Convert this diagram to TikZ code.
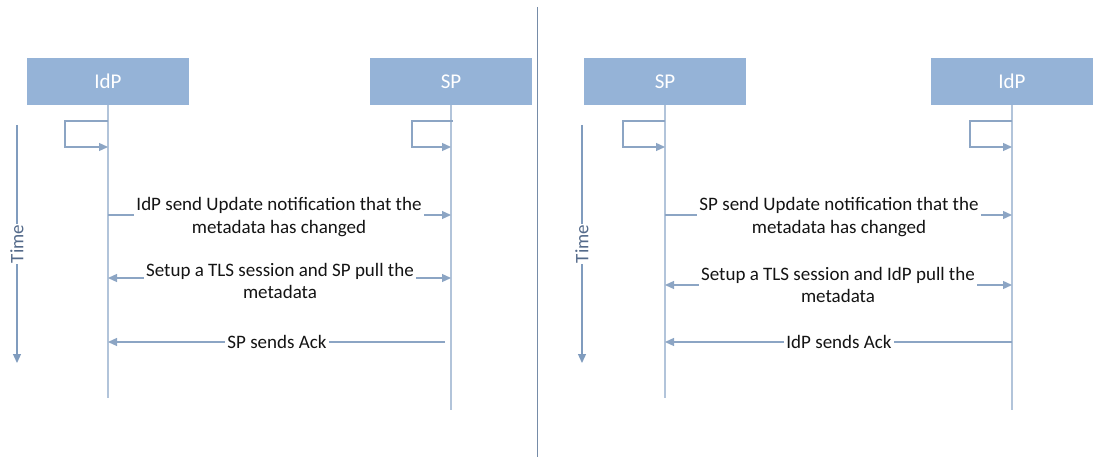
\documentclass[tikz,border=0pt]{standalone}
\usepackage{fontspec}
\setmainfont{Carlito}
\usetikzlibrary{arrows.meta}

\definecolor{boxfill}{RGB}{149,179,215}
\definecolor{lifeclr}{RGB}{178,196,218}
\definecolor{msgclr}{RGB}{140,165,196}
\definecolor{timeclr}{RGB}{128,156,190}
\definecolor{divclr}{RGB}{118,140,168}
\definecolor{txtclr}{RGB}{20,20,20}
\definecolor{timetxt}{RGB}{84,106,138}

\tikzset{
  actor/.style={draw=none, fill=boxfill, minimum width=162pt, minimum height=47pt,
    inner sep=0pt, text=white, font=\fontsize{21}{24}\selectfont},
  life/.style={draw=lifeclr, line width=1.8pt},
  msg/.style={draw=msgclr, line width=1.3pt},
  tip/.style={-{Triangle[length=9pt,width=8pt]}},
  lbl/.style={fill=white, text=txtclr, align=center, inner xsep=2pt, inner ysep=0pt,
    font=\fontsize{19}{22.5}\selectfont},
  timeaxis/.style={draw=timeclr, line width=1.3pt, -{Triangle[length=9pt,width=8pt]}},
  timelbl/.style={fill=white, text=timetxt, rotate=90, inner xsep=1pt, inner ysep=0pt,
    font=\fontsize{19}{22}\selectfont},
}

\begin{document}
\begin{tikzpicture}[x=1pt,y=-1pt]
\useasboundingbox (0,0) rectangle (1093,457);

% separator between the two scenarios
\coordinate (divtop) at (537,7);
\coordinate (divbot) at (537,457);
\draw[draw=divclr, line width=0.9pt] (divtop) -- (divbot);

% ---------- scenario 1: IdP notifies SP ----------
\node[actor] (idpA) at (108,81.5) {IdP};
\node[actor] (spA)  at (451,81.5) {SP};
\coordinate (idpAend) at (108,398);
\coordinate (spAend)  at (451,410);
\draw[life] (idpA.south) -- (idpAend);
\draw[life] (spA.south)  -- (spAend);

% self loops
\coordinate (idpAl1) at (108,121);
\coordinate (idpAl2) at (108,147);
\coordinate (spAl1)  at (453,121);
\coordinate (spAl2)  at (451,147);
\draw[msg,tip] (idpAl1) -- ++(-43,0) |- (idpAl2);
\draw[msg,tip] (spAl1)  -- ++(-41,0) |- (spAl2);

% messages
\coordinate (idpAm1) at (108,215);
\coordinate (spAm1)  at (451,215);
\coordinate (idpAm2) at (108,278);
\coordinate (spAm2)  at (451,278);
\coordinate (idpAm3) at (108,342);
\coordinate (spAm3)  at (445,342);
\draw[msg,tip] (idpAm1) -- (spAm1);
\node[lbl] (txtA1) at (279,217) {IdP send Update notification that the\\metadata has changed};
\draw[msg,{Triangle[length=9pt,width=8pt]}-{Triangle[length=9pt,width=8pt]}] (idpAm2) -- (spAm2);
\node[lbl] (txtA2) at (280,281) {Setup a TLS session and SP pull the\\metadata};
\draw[msg,tip] (spAm3) -- (idpAm3);
\node[lbl] (txtA3) at (277,342) {SP sends Ack};

% time axis
\coordinate (tA1) at (17,125);
\coordinate (tA2) at (17,363);
\draw[timeaxis] (tA1) -- (tA2);
\node[timelbl] (timeA) at (17,244) {Time};

% ---------- scenario 2: SP notifies IdP ----------
\node[actor] (spB)  at (665,81.5) {SP};
\node[actor] (idpB) at (1012,81.5) {IdP};
\coordinate (spBend)  at (665,398);
\coordinate (idpBend) at (1012,410);
\draw[life] (spB.south)  -- (spBend);
\draw[life] (idpB.south) -- (idpBend);

% self loops
\coordinate (spBl1)  at (665,121);
\coordinate (spBl2)  at (665,147);
\coordinate (idpBl1) at (1012,121);
\coordinate (idpBl2) at (1012,147);
\draw[msg,tip] (spBl1)  -- ++(-42,0) |- (spBl2);
\draw[msg,tip] (idpBl1) -- ++(-42,0) |- (idpBl2);

% messages
\coordinate (spBm1)  at (665,215);
\coordinate (idpBm1) at (1012,215);
\coordinate (spBm2)  at (665,285);
\coordinate (idpBm2) at (1012,285);
\coordinate (spBm3)  at (665,342);
\coordinate (idpBm3) at (1012,342);
\draw[msg,tip] (spBm1) -- (idpBm1);
\node[lbl] (txtB1) at (839,217) {SP send Update notification that the\\metadata has changed};
\draw[msg,{Triangle[length=9pt,width=8pt]}-{Triangle[length=9pt,width=8pt]}] (spBm2) -- (idpBm2);
\node[lbl] (txtB2) at (838,285) {Setup a TLS session and IdP pull the\\metadata};
\draw[msg,tip] (idpBm3) -- (spBm3);
\node[lbl] (txtB3) at (839,342) {IdP sends Ack};

% time axis
\coordinate (tB1) at (582,125);
\coordinate (tB2) at (582,363);
\draw[timeaxis] (tB1) -- (tB2);
\node[timelbl] (timeB) at (582,244) {Time};
\end{tikzpicture}
\end{document}
